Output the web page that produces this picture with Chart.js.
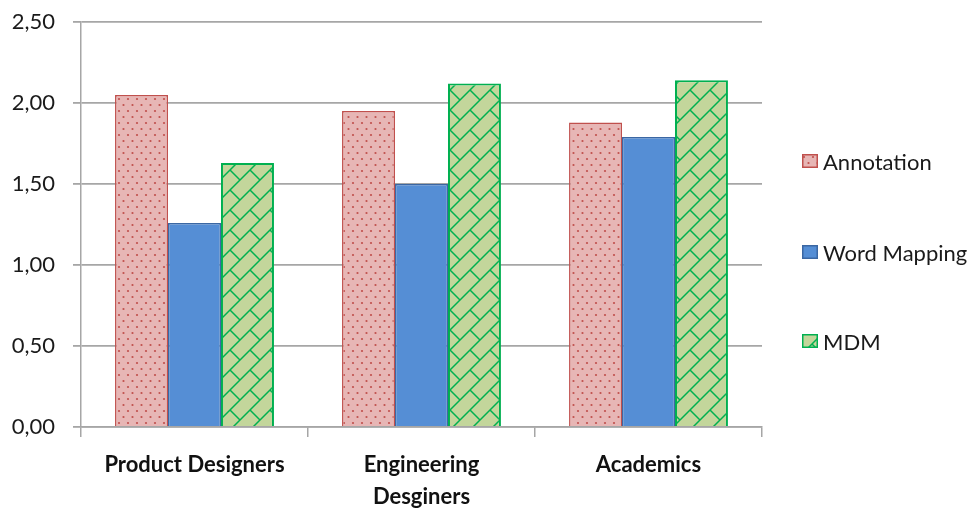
<!DOCTYPE html>
<html>
<head>
<meta charset="utf-8">
<script src="https://cdn.jsdelivr.net/npm/chart.js@4.4.1/dist/chart.umd.min.js"></script>
<style>
  html, body { margin: 0; padding: 0; background: #ffffff; }
  #wrap { position: relative; width: 980px; height: 511px; overflow: hidden; }
  #chart { position: absolute; left: 0; top: 0; }
  .leg { position: absolute; left: 802px; display: flex; align-items: center; height: 26px;
         font-family: Lato, "Open Sans", sans-serif; font-size: 22px; color: #1a1a1a; white-space: nowrap; }
  .leg canvas { width: 16px; height: 14px; margin-right: 5px; display: block; }
</style>
</head>
<body>
<div id="wrap">
  <canvas id="chart" width="980" height="511"></canvas>
  <div class="leg" id="leg0" style="top:148px"><canvas width="16" height="14"></canvas><span>Annotation</span></div>
  <div class="leg" id="leg1" style="top:239px"><canvas width="16" height="14"></canvas><span>Word Mapping</span></div>
  <div class="leg" id="leg2" style="top:328px"><canvas width="16" height="14"></canvas><span>MDM</span></div>
</div>
<script>
// ---- data ----
const categories = ['Product Designers', ['Engineering', 'Desginers'], 'Academics'];
const seriesNames = ['Annotation', 'Word Mapping', 'MDM'];
const annotation = [2.05, 1.95, 1.88];
const wordMapping = [1.26, 1.50, 1.79];
const mdm = [1.63, 2.12, 2.14];
const yMin = 0, yMax = 2.5, yStep = 0.5;

// ---- patterns ----
function dotsPattern() {
  const c = document.createElement('canvas');
  c.width = 9; c.height = 12;
  const g = c.getContext('2d');
  g.fillStyle = '#e7b6b5';
  g.fillRect(0, 0, 9, 12);
  g.fillStyle = '#c0504d';
  g.beginPath(); g.arc(2, 3, 1.1, 0, Math.PI * 2); g.fill();
  g.beginPath(); g.arc(6.5, 9, 1.1, 0, Math.PI * 2); g.fill();
  return g.createPattern(c, 'repeat');
}
function brickPattern() {
  const s = 20;
  const c = document.createElement('canvas');
  c.width = s; c.height = s;
  const g = c.getContext('2d');
  g.fillStyle = '#c3d69b';
  g.fillRect(0, 0, s, s);
  g.strokeStyle = '#00b050';
  g.lineWidth = 1.5;
  g.beginPath();
  g.moveTo(-1, s + 1); g.lineTo(s + 1, -1);
  g.moveTo(-1, 1); g.lineTo(1, -1);
  g.moveTo(s - 1, s + 1); g.lineTo(s + 1, s - 1);
  g.moveTo(s / 2, s / 2); g.lineTo(s, s);
  g.stroke();
  return g.createPattern(c, 'repeat');
}
const fills = [dotsPattern(), '#558ed5', brickPattern()];
const borders = ['#c0504d', '#3b67a3', '#00b050'];
const borderWidths = [1.5, 1.5, 2];

// legend swatches
[0, 1, 2].forEach(i => {
  const cv = document.querySelector('#leg' + i + ' canvas');
  const g = cv.getContext('2d');
  g.fillStyle = fills[i];
  g.fillRect(0, 0, 16, 14);
  g.strokeStyle = borders[i];
  g.lineWidth = 1.5;
  g.strokeRect(0.75, 0.75, 14.5, 12.5);
});

const values = [annotation, wordMapping, mdm];
const datasets = seriesNames.map((name, i) => ({
  label: name,
  data: values[i],
  backgroundColor: fills[i],
  borderColor: borders[i],
  borderWidth: borderWidths[i],
  barPercentage: 1.0,
  categoryPercentage: 0.7
}));

const gridColor = '#a6a6a6';
new Chart(document.getElementById('chart'), {
  type: 'bar',
  data: { labels: categories, datasets },
  options: {
    responsive: false,
    animation: false,
    devicePixelRatio: 1,
    layout: { padding: { left: 0, right: 218, top: 22, bottom: 0 } },
    plugins: { legend: { display: false }, tooltip: { enabled: false } },
    scales: {
      x: {
        offset: true,
        grid: { offset: true, drawOnChartArea: false, drawTicks: true, tickLength: 10, color: gridColor, lineWidth: 1.5 },
        border: { display: true, color: gridColor, width: 1.5 },
        ticks: {
          color: '#111111',
          padding: 12,
          maxRotation: 0,
          autoSkip: false,
          font: { family: 'Lato, "Open Sans", sans-serif', size: 22, weight: 'bold', lineHeight: 1.45 }
        },
        afterFit: s => { s.height = 84; s.paddingLeft = 0; s.paddingRight = 0; }
      },
      y: {
        min: yMin,
        max: yMax,
        ticks: {
          stepSize: yStep,
          color: '#1a1a1a',
          padding: 18,
          font: { family: 'Lato, "Open Sans", sans-serif', size: 22 },
          callback: v => Number(v).toFixed(2).replace('.', ',')
        },
        grid: { color: gridColor, lineWidth: 1.8, tickLength: 8, drawTicks: true },
        border: { display: true, color: gridColor, width: 1.5 },
        afterFit: s => { s.width = 81; s.paddingTop = 0; s.paddingBottom = 0; }
      }
    }
  }
});
</script>
</body>
</html>
